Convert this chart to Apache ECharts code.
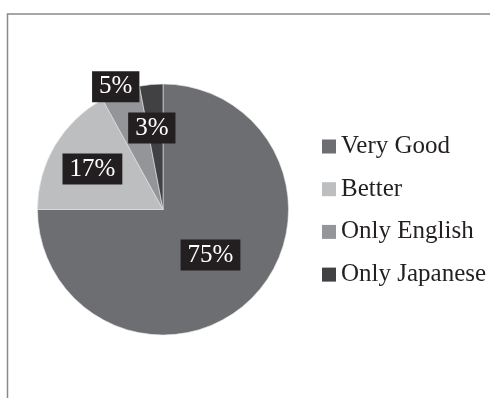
<!DOCTYPE html>
<html>
<head>
<meta charset="utf-8">
<style>
  html, body { margin: 0; padding: 0; background: #fff; }
  #chart { width: 490px; height: 398px; }
</style>
<script src="https://cdn.jsdelivr.net/npm/echarts@6/dist/echarts.min.js"></script>
</head>
<body>
<div id="chart"></div>
<script>
// Survey answers and their shares (percent)
const categories = ['Very Good', 'Better', 'Only English', 'Only Japanese'];
const shares = [75, 17, 5, 3];

// Greyscale palette for the slices
const sliceColors = ['#6d6e71', '#bcbec0', '#939598', '#414042'];
// Nudges for the value tags, relative to the slice's inside anchor
const tagNudges = [[1, -1], [-14, -7], [-25, -61], [-5, -16]];

const serif = "'Liberation Serif', 'DejaVu Serif', serif";

const chart = echarts.init(document.getElementById('chart'), null, { renderer: 'canvas' });

const pieData = categories.map((name, i) => ({
  name,
  value: shares[i],
  itemStyle: { color: sliceColors[i] },
  label: { offset: tagNudges[i] }
}));

chart.setOption({
  animation: false,
  graphic: [{
    type: 'rect',
    shape: { x: 7.5, y: 14, width: 700, height: 700 },
    style: { fill: 'none', stroke: '#8a8a8a', lineWidth: 1.5 },
    silent: true
  }],
  legend: {
    orient: 'vertical',
    left: 322,
    top: 134,
    padding: 0,
    icon: 'rect',
    itemWidth: 14,
    itemHeight: 14,
    itemGap: 17.7,
    itemStyle: { borderWidth: 0 },
    textStyle: {
      fontFamily: serif,
      fontSize: 25,
      lineHeight: 25,
      color: '#231f20'
    },
    data: categories,
    selectedMode: false
  },
  series: [{
    type: 'pie',
    center: [163, 209.5],
    radius: [0, 125.5],
    startAngle: 90,
    clockwise: true,
    avoidLabelOverlap: false,
    emphasis: { disabled: true },
    itemStyle: { borderColor: '#e6e6e6', borderWidth: 0.6 },
    label: {
      show: true,
      position: 'inside',
      formatter: '{c}%',
      fontFamily: serif,
      fontSize: 25,
      lineHeight: 25,
      color: '#ffffff',
      backgroundColor: '#231f20',
      padding: [3, 7]
    },
    labelLine: { show: false },
    data: pieData
  }]
});
</script>
</body>
</html>
